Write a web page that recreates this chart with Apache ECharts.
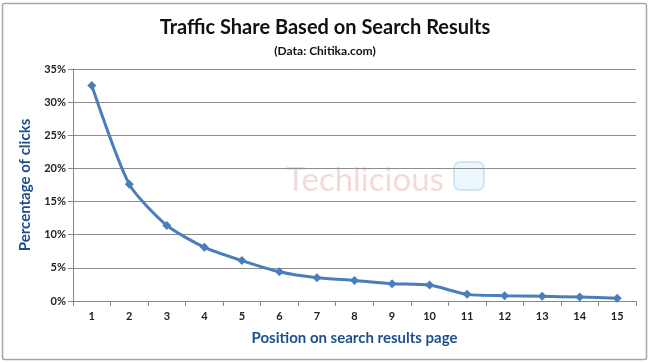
<!DOCTYPE html>
<html><head><meta charset="utf-8">
<script src="https://cdn.jsdelivr.net/npm/echarts@6/dist/echarts.min.js"></script>
<style>html,body{margin:0;padding:0;background:#fff}#c{width:650px;height:363px}</style>
</head><body><div id="c"></div>
<script>
const positions = ['1','2','3','4','5','6','7','8','9','10','11','12','13','14','15'];
const clickShare = [32.5, 17.6, 11.4, 8.1, 6.1, 4.4, 3.5, 3.1, 2.6, 2.4, 1.0, 0.8, 0.7, 0.6, 0.4];
const yTicks = [0, 5, 10, 15, 20, 25, 30, 35];

const chart = echarts.init(document.getElementById('c'));
const FONT = 'Lato, "Open Sans", sans-serif';
chart.setOption({
  animation: false,
  title: [
    {text: 'Traffic Share Based on Search Results', left: 'center', top: 13,
     textStyle: {fontFamily: FONT, fontSize: 20, fontWeight: 'bold', color: '#111'}},
    {text: '(Data: Chitika.com)', left: 'center', top: 40,
     textStyle: {fontFamily: FONT, fontSize: 12, fontWeight: 'bold', color: '#111'}}
  ],
  graphic: [
    {type: 'rect', shape: {x: 2.5, y: 3.5, width: 644, height: 356, r: 2}, style: {fill: 'none', stroke: '#a6a6a6', lineWidth: 1.5}, z: -1},
    {type: 'text', left: 286, top: 164, style: {text: 'Techlicious', font: '33px Lato, sans-serif', fill: 'rgba(220,150,150,0.35)'}, z: -1},
    {type: 'rect', shape: {x: 454, y: 162, width: 30, height: 28, r: 6}, style: {fill: 'rgba(170,215,240,0.2)', stroke: 'rgba(150,200,235,0.4)', lineWidth: 2}, z: -1}
  ],
  grid: {left: 73, right: 14, top: 69, bottom: 62},
  xAxis: {
    type: 'category', data: positions, boundaryGap: true,
    name: 'Position on search results page', nameLocation: 'middle', nameGap: 30,
    nameTextStyle: {fontFamily: FONT, fontSize: 15, fontWeight: 'bold', color: '#1f4e8c'},
    axisLine: {lineStyle: {color: '#868686', width: 1}},
    axisTick: {show: true, length: 5, alignWithLabel: false, lineStyle: {color: '#868686'}},
    axisLabel: {fontFamily: FONT, fontSize: 11, fontWeight: 'bold', color: '#222', margin: 10}
  },
  yAxis: {
    type: 'value', min: 0, max: 35, interval: 5,
    name: 'Percentage of clicks', nameLocation: 'middle', nameGap: 40,
    nameTextStyle: {fontFamily: FONT, fontSize: 15, fontWeight: 'bold', color: '#1f4e8c'},
    axisLine: {show: true, lineStyle: {color: '#868686'}},
    axisTick: {show: true, length: 5, lineStyle: {color: '#868686'}},
    splitLine: {lineStyle: {color: '#8c8c8c', width: 1}},
    axisLabel: {fontFamily: FONT, fontSize: 11, fontWeight: 'bold', color: '#222', margin: 7,
      formatter: v => yTicks.includes(v) ? v + '%' : ''}
  },
  series: [{
    type: 'line', data: clickShare, smooth: 0.22,
    symbol: 'diamond', symbolSize: 9,
    lineStyle: {color: '#4a7ebb', width: 3},
    itemStyle: {color: '#4a7ebb'}
  }]
});
</script></body></html>
